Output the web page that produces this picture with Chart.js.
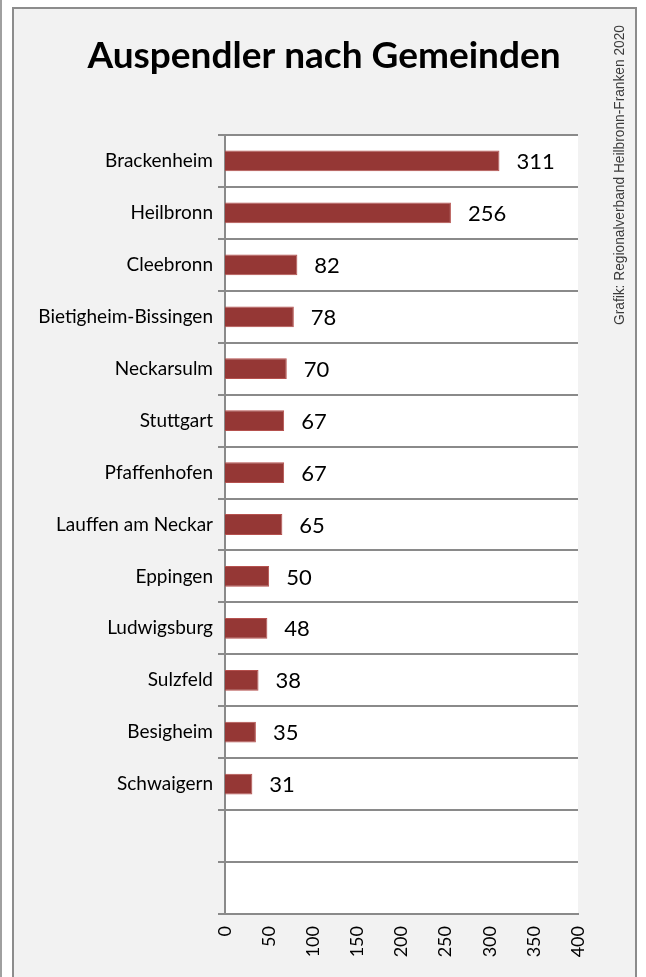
<!DOCTYPE html>
<html>
<head>
<meta charset="utf-8">
<script src="https://cdn.jsdelivr.net/npm/chart.js@4"></script>
<style>
  html, body { margin: 0; padding: 0; background: #fff; }
  canvas { display: block; }
</style>
</head>
<body>
<canvas id="pendlerChart" width="646" height="977"></canvas>
<script>
document.addEventListener("DOMContentLoaded", () => {

    const gemeinden = [
        "Brackenheim", "Heilbronn", "Cleebronn", "Bietigheim-Bissingen", "Neckarsulm",
        "Stuttgart", "Pfaffenhofen", "Lauffen am Neckar", "Eppingen", "Ludwigsburg",
        "Sulzfeld", "Besigheim", "Schwaigern", "", ""
    ];
    const auspendler = [311, 256, 82, 78, 70, 67, 67, 65, 50, 48, 38, 35, 31, null, null];
    const xTicks = [0, 50, 100, 150, 200, 250, 300, 350, 400];

    const titleText = "Auspendler nach Gemeinden";
    const sourceText = "Grafik: Regionalverband Heilbronn-Franken 2020";

    const gridGray = "#8a8a8a";
    const labelFont = "Lato, 'Open Sans', sans-serif";

    // background, frame, title and source note
    const framePlugin = {
        id: "frame",
        beforeDraw(chart) {
            const { ctx, chartArea } = chart;
            ctx.save();
            ctx.fillStyle = "#fff";
            ctx.fillRect(0, 0, chart.width, chart.height);
            ctx.fillStyle = "#a0a0a0";
            ctx.fillRect(0, 0, 2, chart.height);
            ctx.fillStyle = "#f2f2f2";
            ctx.fillRect(13, 8, 623, chart.height);
            ctx.strokeStyle = "#8c8c8c";
            ctx.lineWidth = 2;
            ctx.strokeRect(13, 8, 623, chart.height + 10);
            ctx.fillStyle = "#fff";
            ctx.fillRect(chartArea.left, chartArea.top, chartArea.right - chartArea.left, chartArea.bottom - chartArea.top);
            ctx.restore();
        },
        afterDraw(chart) {
            const { ctx } = chart;
            ctx.save();
            ctx.fillStyle = "#000";
            ctx.font = "bold 37px " + labelFont;
            ctx.textAlign = "center";
            ctx.textBaseline = "alphabetic";
            ctx.fillText(titleText, 324, 68);

            ctx.translate(620, 175);
            ctx.rotate(-Math.PI / 2);
            ctx.font = "15px 'Liberation Sans Narrow', 'Liberation Sans', Arial, sans-serif";
            const w = ctx.measureText(sourceText).width;
            if (w > 300) ctx.scale(300 / w, 1);
            ctx.fillStyle = "#3a3a3a";
            ctx.textBaseline = "middle";
            ctx.fillText(sourceText, 0, 0);
            ctx.restore();
        }
    };

    // value labels right of each bar
    const valueLabels = {
        id: "valueLabels",
        afterDatasetsDraw(chart) {
            const { ctx } = chart;
            const meta = chart.getDatasetMeta(0);
            ctx.save();
            ctx.font = "22px " + labelFont;
            ctx.fillStyle = "#000";
            ctx.textAlign = "left";
            ctx.textBaseline = "middle";
            meta.data.forEach((bar, i) => {
                const v = auspendler[i];
                if (v === null) return;
                ctx.fillText(String(v), bar.x + 17, bar.y + 1);
            });
            ctx.restore();
        }
    };

    new Chart(document.getElementById("pendlerChart"), {
        type: "bar",
        data: {
            labels: gemeinden,
            datasets: [{
                data: auspendler,
                backgroundColor: "#953735",
                borderColor: "#b5514e",
                borderWidth: 1,
                categoryPercentage: 1,
                barPercentage: 0.4
            }]
        },
        options: {
            indexAxis: "y",
            responsive: false,
            animation: false,
            devicePixelRatio: 1,
            layout: { padding: { left: 0, right: 68, top: 135, bottom: 0 } },
            plugins: {
                legend: { display: false },
                tooltip: { enabled: false }
            },
            scales: {
                x: {
                    min: 0,
                    max: 400,
                    afterBuildTicks: axis => { axis.ticks = xTicks.map(v => ({ value: v })); },
                    afterFit: axis => { axis.height = 63; },
                    grid: { display: false, drawTicks: false },
                    border: { display: true, color: gridGray, width: 2 },
                    ticks: {
                        autoSkip: false,
                        minRotation: 90,
                        maxRotation: 90,
                        padding: 12,
                        color: "#000",
                        font: { family: labelFont, size: 18 }
                    }
                },
                y: {
                    afterFit: axis => { axis.width = 225; },
                    grid: { color: gridGray, lineWidth: 2, tickLength: 7, offset: true },
                    border: { color: gridGray, width: 2 },
                    ticks: {
                        autoSkip: false,
                        padding: 5,
                        color: "#000",
                        font: { family: labelFont, size: 19 }
                    }
                }
            }
        },
        plugins: [framePlugin, valueLabels]
    });

});
</script>
</body>
</html>
